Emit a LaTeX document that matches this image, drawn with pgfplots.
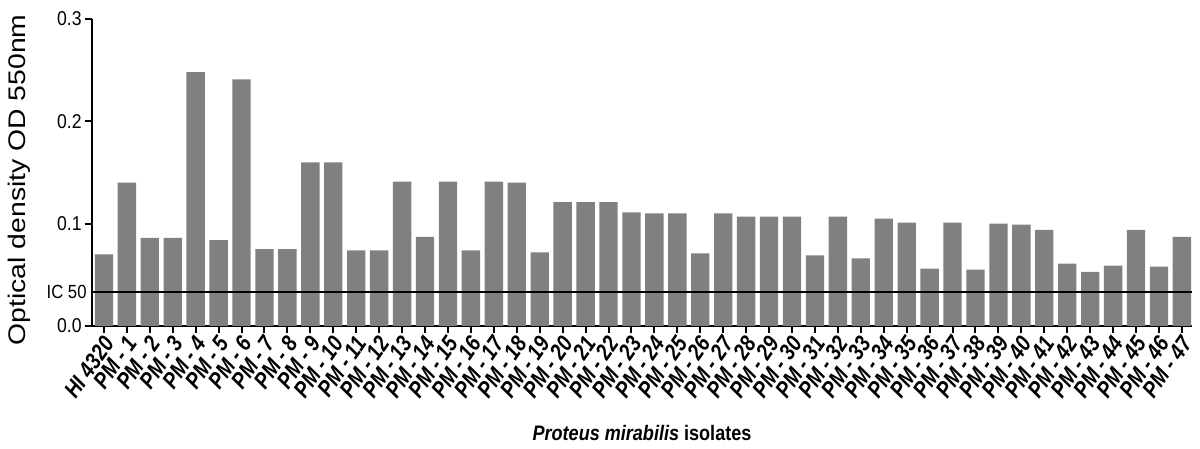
\documentclass[border=0pt]{standalone}
\usepackage{fontspec}
\setmainfont{Liberation Sans}
\newfontfamily\narrowfont[FakeStretch=0.88]{Liberation Sans}
\newfontfamily\xlabfont[FakeStretch=0.86]{Liberation Sans}
\newfontface\xtickfont[FakeStretch=0.85]{Liberation Sans Bold Italic}
\newfontfamily\ylabfont[FakeStretch=1.18]{Liberation Sans}
\usepackage{pgfplots}
\usepackage{pgfplotstable}
\pgfplotsset{compat=1.18}
\pgfplotstableread{
x y
0 0.070
1 0.140
2 0.086
3 0.086
4 0.248
5 0.084
6 0.241
7 0.075
8 0.075
9 0.160
10 0.160
11 0.074
12 0.074
13 0.141
14 0.087
15 0.141
16 0.074
17 0.141
18 0.140
19 0.072
20 0.121
21 0.121
22 0.121
23 0.111
24 0.110
25 0.110
26 0.071
27 0.110
28 0.107
29 0.107
30 0.107
31 0.069
32 0.107
33 0.066
34 0.105
35 0.101
36 0.056
37 0.101
38 0.055
39 0.100
40 0.099
41 0.094
42 0.061
43 0.053
44 0.059
45 0.094
46 0.058
47 0.087
}\datatable
\begin{document}
\begin{tikzpicture}
\path[use as bounding box] (0,0) rectangle (600pt,224.5pt);
\begin{axis}[
  at={(46pt,61.5pt)}, anchor=south west,
  scale only axis, width=550pt, height=153.5pt,
  xmin=-0.52, xmax=47.44, ymin=0, ymax=0.3,
  axis x line=bottom, axis y line=left,
  axis line style={line width=1.2pt, -},
  tick align=outside, major tick length=3.5pt,
  tick style={black, line width=1pt},
  xtick={0,...,47},
  xticklabels={HI 4320, PM - 1, PM - 2, PM - 3, PM - 4, PM - 5, PM - 6, PM - 7, PM - 8, PM - 9, PM - 10, PM - 11, PM - 12, PM - 13, PM - 14, PM - 15, PM - 16, PM - 17, PM - 18, PM - 19, PM - 20, PM - 21, PM - 22, PM - 23, PM - 24, PM - 25, PM - 26, PM - 27, PM - 28, PM - 29, PM - 30, PM - 31, PM - 32, PM - 33, PM - 34, PM - 35, PM - 36, PM - 37, PM - 38, PM - 39, PM - 40, PM - 41, PM - 42, PM - 43, PM - 44, PM - 45, PM - 46, PM - 47},
  xticklabel style={font=\xtickfont\fontsize{11.5}{12}\selectfont, xshift=3pt, yshift=-2pt, rotate=55, anchor=east, inner sep=1pt},
  ytick={0,0.1,0.2,0.3},
  yticklabel style={font=\narrowfont\fontsize{10}{11}\selectfont, inner sep=1.5pt},
  extra y ticks={0.0336}, extra y tick labels={IC 50},
  extra y tick style={major tick length=0pt, yticklabel style={font=\narrowfont\fontsize{9.5}{10}\selectfont, xshift=-1pt}},
  /pgf/number format/assume math mode=true,
  /pgf/number format/fixed,
  /pgf/number format/fixed zerofill,
  /pgf/number format/precision=1,
  xlabel={\textit{Proteus mirabilis} isolates},
  xlabel style={font=\xlabfont\bfseries\fontsize{10.5}{11}\selectfont, at={(axis description cs:0.5,0)}, anchor=center, yshift=-53.5pt},
  ylabel={Optical density OD 550nm},
  ylabel style={font=\ylabfont\fontsize{12}{13}\selectfont, at={(axis description cs:-0.0664,0.476)}, anchor=center},
]
\addplot[ybar, bar width=0.8, fill=black!50, draw=none] table[x=x, y=y] {\datatable};
\addplot[black, line width=1pt, forget plot] coordinates {(-0.52,0.0336) (47.44,0.0336)};
\end{axis}
\end{tikzpicture}
\end{document}
